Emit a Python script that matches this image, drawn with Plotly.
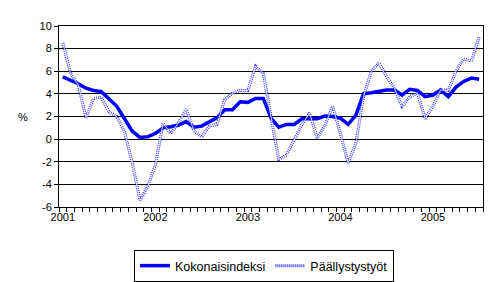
import plotly.graph_objects as go

years = ["2001", "2002", "2003", "2004", "2005"]
months = [f"{y}-{m:02d}" for y in range(2001, 2006) for m in range(1, 13)][:55]

kokonaisindeksi = [
    5.5, 5.2, 4.9, 4.5, 4.3, 4.2, 3.5, 2.9, 1.8, 0.7, 0.15, 0.2,
    0.5, 1.0, 1.1, 1.25, 1.55, 1.05, 1.15, 1.55, 1.9, 2.6, 2.6, 3.3,
    3.25, 3.6, 3.6, 1.85, 1.05, 1.3, 1.3, 1.8, 1.8, 1.8, 2.05, 2.0,
    1.85, 1.3, 2.1, 4.0, 4.1, 4.2, 4.35, 4.35, 3.9, 4.4, 4.3, 3.75,
    3.9, 4.35, 3.75, 4.6, 5.1, 5.4, 5.3,
]
paallystystyot = [
    8.5, 5.8, 4.8, 1.9, 3.6, 3.7, 2.4, 2.0, 0.65, -2.1, -5.4, -4.2,
    -2.3, 1.4, 0.5, 1.45, 2.65, 0.75, 0.2, 1.15, 1.3, 3.5, 4.05, 4.3,
    4.3, 6.45, 5.8, 2.1, -1.8, -1.4, -0.1, 1.25, 2.3, 0.1, 1.25, 2.9,
    0.5, -2.1, -0.4, 3.75, 6.0, 6.75, 5.5, 4.5, 2.9, 3.75, 4.05, 1.8,
    2.9, 4.35, 4.3, 6.0, 7.1, 6.9, 9.0,
]
yticks = [-6, -4, -2, 0, 2, 4, 6, 8, 10]

x = list(range(len(months)))
font = "Liberation Sans, Arial, sans-serif"

fig = go.Figure()
fig.add_trace(go.Scatter(
    x=x, y=kokonaisindeksi, mode="lines", name="Kokonaisindeksi",
    line=dict(color="#0000ff", width=3.5), customdata=months,
))
fig.add_trace(go.Scatter(
    x=x, y=paallystystyot, mode="lines", name="Päällystystyöt",
    line=dict(color="#2a2aff", width=3, dash="1px,1px"), customdata=months,
))
fig.add_trace(go.Scatter(
    x=x, y=paallystystyot, mode="lines", showlegend=False, hoverinfo="skip",
    line=dict(color="#ffffff", width=0.8),
))

fig.update_layout(
    width=498, height=282,
    margin=dict(l=59, r=15, t=26, b=75, autoexpand=False),
    paper_bgcolor="white", plot_bgcolor="white",
    font=dict(family=font, size=11, color="black"),
    showlegend=True,
    legend=dict(
        orientation="h", xref="container", yref="container",
        x=134 / 498, xanchor="left", y=1 - 250 / 282, yanchor="top",
        bordercolor="black", borderwidth=1, font=dict(size=12.5),
        itemwidth=30, tracegroupgap=0,
    ),
    xaxis=dict(
        range=[-0.5, len(months) - 0.5],
        tickvals=[0, 12, 24, 36, 48], ticktext=years, ticks="",
        showgrid=False, zeroline=False,
        showline=True, linecolor="black", linewidth=1, mirror=True,
        minor=dict(tickvals=[k + 0.5 for k in range(-1, len(months))],
                   ticks="outside", ticklen=4, tickcolor="black", showgrid=False),
        tickfont=dict(size=11),
    ),
    yaxis=dict(
        range=[-6, 10], tickvals=yticks, ticktext=[str(v) for v in yticks],
        showgrid=True, gridcolor="black", gridwidth=1, zeroline=False,
        showline=True, linecolor="black", linewidth=1, mirror=True,
        ticks="outside", ticklen=4, tickcolor="black",
        tickfont=dict(size=11),
    ),
    annotations=[dict(
        text="%", xref="paper", yref="paper", x=-0.085, y=0.5,
        xanchor="center", yanchor="middle", showarrow=False, font=dict(size=11),
    )],
)

fig.write_html("out.html")
